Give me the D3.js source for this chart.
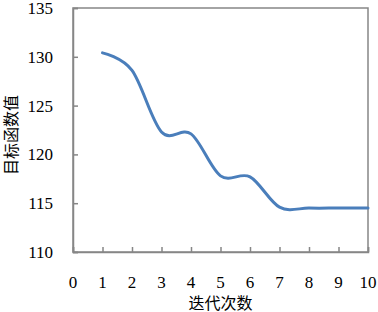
<!DOCTYPE html>
<html lang="zh">
<head>
<meta charset="UTF-8">
<title>目标函数值</title>
<script src="https://d3js.org/d3.v7.min.js"></script>
<style>
  body { margin: 0; background: #fff; }
</style>
</head>
<body>
<div id="chart"></div>
<script>
// values
const iterations = [1, 2, 3, 4, 5, 6, 7, 8, 9, 10];
const objective = [130.4, 128.6, 122.3, 122.1, 117.8, 117.7, 114.6, 114.5, 114.5, 114.5];
const xTicks = [0, 1, 2, 3, 4, 5, 6, 7, 8, 9, 10];
const yTicks = [110, 115, 120, 125, 130, 135];

const width = 378, height = 312;
const margin = { top: 8, right: 10, bottom: 60, left: 73 };
const font = "'Liberation Serif', 'Times New Roman', 'Noto Sans CJK SC', serif";

const svg = d3.select("#chart").append("svg")
    .attr("width", width)
    .attr("height", height);

const x = d3.scaleLinear().domain([0, 10]).range([margin.left, width - margin.right]);
const y = d3.scaleLinear().domain([110, 135]).range([height - margin.bottom, margin.top]);

const axisColor = "#868686";

// plot frame
svg.append("rect")
    .attr("x", x(0)).attr("y", y(135))
    .attr("width", x(10) - x(0)).attr("height", y(110) - y(135))
    .attr("fill", "none").attr("stroke", axisColor).attr("stroke-width", 1.5);

// y axis, ticks pointing inward
const yAxis = svg.append("g")
    .attr("transform", `translate(${x(0)},0)`)
    .call(d3.axisRight(y).tickValues(yTicks).tickSize(5).tickFormat(""));
yAxis.select(".domain").attr("stroke", axisColor).attr("stroke-width", 1.5);
yAxis.selectAll(".tick line").attr("stroke", axisColor).attr("stroke-width", 1.5);

svg.append("g").selectAll("text")
    .data(yTicks)
    .join("text")
    .attr("x", x(0) - 20)
    .attr("y", d => y(d))
    .attr("dy", "0.35em")
    .attr("text-anchor", "end")
    .attr("font-family", font)
    .attr("font-size", 17)
    .text(d => d);

// x axis, ticks pointing up
const xAxis = svg.append("g")
    .attr("transform", `translate(0,${y(110)})`)
    .call(d3.axisTop(x).tickValues(xTicks).tickSize(5).tickFormat(""));
xAxis.select(".domain").attr("stroke", axisColor).attr("stroke-width", 1.5);
xAxis.selectAll(".tick line").attr("stroke", axisColor).attr("stroke-width", 1.5);

svg.append("g").selectAll("text")
    .data(xTicks)
    .join("text")
    .attr("x", d => x(d))
    .attr("y", y(110) + 36)
    .attr("text-anchor", "middle")
    .attr("font-family", font)
    .attr("font-size", 17)
    .text(d => d);

// the curve
const line = d3.line()
    .x((d, i) => x(iterations[i]))
    .y(d => y(d))
    .curve(d3.curveCatmullRom.alpha(0));

svg.append("path")
    .datum(objective)
    .attr("fill", "none")
    .attr("stroke", "#4A7EBB")
    .attr("stroke-width", 3)
    .attr("stroke-linecap", "round")
    .attr("d", line);

// axis titles
svg.append("text")
    .attr("x", (x(0) + x(10)) / 2)
    .attr("y", 309)
    .attr("text-anchor", "middle")
    .attr("font-family", font)
    .attr("font-size", 16)
    .text("迭代次数");

svg.append("text")
    .attr("transform", `translate(17,135) rotate(-90)`)
    .attr("text-anchor", "middle")
    .attr("font-family", font)
    .attr("font-size", 16)
    .text("目标函数值");
</script>
</body>
</html>
